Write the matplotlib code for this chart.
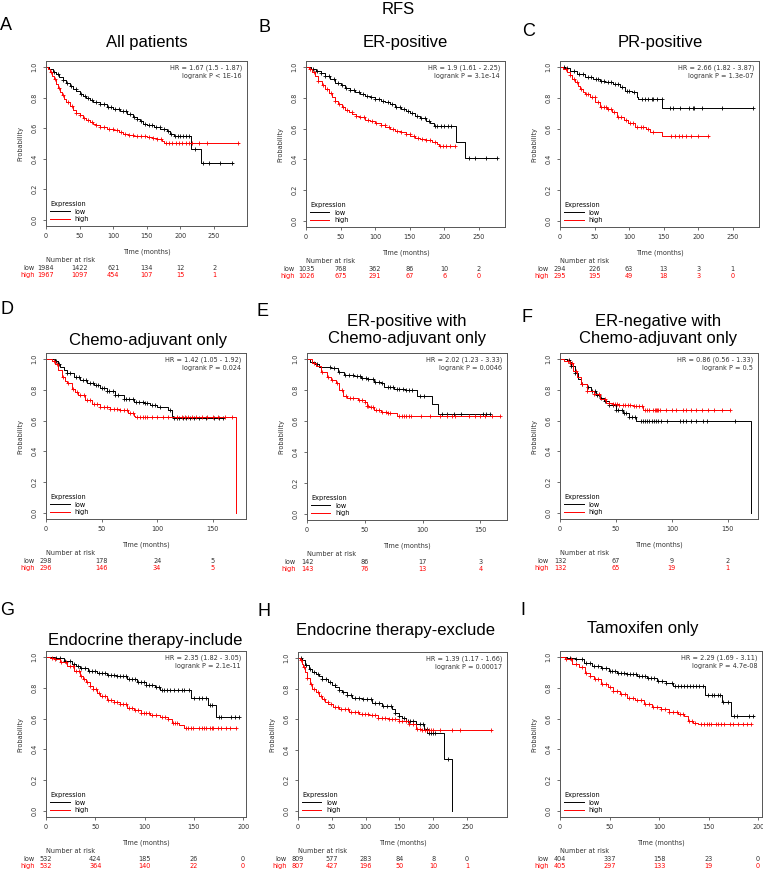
import numpy as np
import matplotlib
matplotlib.use('Agg')
import matplotlib.pyplot as plt
from matplotlib.lines import Line2D

# ---------------- data ----------------
# Kaplan-Meier curves as (months, survival) step points, censor times in months

A_LOW = [(0,1.0),(5,0.985),(10,0.97),(15,0.952),(20,0.935),(25,0.915),(30,0.895),(35,0.877),(40,0.86),
         (45,0.843),(50,0.826),(55,0.81),(60,0.795),(65,0.782),(70,0.772),(80,0.757),(90,0.742),(100,0.728),
         (110,0.71),(120,0.69),(130,0.672),(135,0.66),(140,0.645),(145,0.63),(150,0.62),(160,0.607),
         (170,0.598),(180,0.58),(185,0.565),(190,0.548),(216,0.465),(230,0.374),(278,0.374)]
A_LOW_CENS = [12,18,25,31,37,44,52,58,63,69,75,81,86,92,97,103,108,114,119,125,131,136,142,147,153,158,
              164,169,175,181,186,192,196,200,204,208,212,222,234,243,259,276]
A_HIGH = [(0,1.0),(3,0.985),(6,0.965),(9,0.945),(12,0.92),(15,0.89),(18,0.865),(21,0.84),(24,0.815),
          (27,0.793),(30,0.772),(35,0.745),(40,0.72),(45,0.70),(50,0.685),(55,0.67),(60,0.657),(65,0.643),
          (70,0.63),(75,0.62),(80,0.61),(90,0.598),(100,0.587),(108,0.575),(115,0.565),(122,0.558),
          (130,0.552),(140,0.547),(150,0.543),(158,0.537),(165,0.532),(172,0.518),(176,0.506),(287,0.506)]
A_HIGH_CENS = [8,14,20,26,32,38,45,51,57,63,69,75,81,87,93,99,105,111,117,123,129,135,141,147,153,159,
               165,171,178,183,188,193,198,203,208,213,217,228,239,286]

B_LOW = [(0,1.0),(7,0.99),(14,0.978),(21,0.962),(28,0.945),(35,0.922),(42,0.90),(50,0.882),(57,0.865),
         (64,0.85),(71,0.837),(78,0.826),(86,0.815),(93,0.804),(100,0.793),(108,0.782),(115,0.772),
         (122,0.758),(129,0.743),(137,0.73),(144,0.717),(151,0.70),(158,0.685),(165,0.668),(173,0.652),
         (180,0.635),(185,0.62),(217,0.513),(230,0.41),(277,0.41)]
B_LOW_CENS = [10,16,22,28,34,40,46,52,58,64,70,76,82,88,94,100,106,112,118,124,130,136,142,148,154,160,
              166,172,178,186,190,195,200,205,210,236,245,260,277]
B_HIGH = [(0,1.0),(4,0.985),(9,0.967),(13,0.94),(18,0.913),(23,0.886),(28,0.859),(33,0.832),(38,0.804),
          (42,0.782),(47,0.761),(52,0.74),(57,0.722),(62,0.708),(67,0.696),(72,0.685),(76,0.674),(86,0.659),
          (93,0.647),(100,0.635),(108,0.624),(115,0.613),(122,0.60),(129,0.587),(137,0.576),(144,0.565),
          (151,0.552),(158,0.539),(165,0.532),(173,0.526),(182,0.512),(190,0.50),(192,0.485),(216,0.485)]
B_HIGH_CENS = [6,12,18,24,30,36,42,48,54,60,66,72,78,84,90,96,102,108,114,120,126,132,138,144,150,156,
               162,168,174,180,186,194,198,203,208,216]

C_LOW = [(0,1.0),(7,0.993),(14,0.978),(24,0.957),(36,0.935),(48,0.924),(58,0.913),(65,0.902),(77,0.891),
         (87,0.874),(94,0.848),(104,0.837),(111,0.804),(113,0.793),(148,0.737),(279,0.737)]
C_LOW_CENS = [6,10,20,28,33,40,45,52,55,60,63,70,74,80,84,90,97,100,107,118,123,128,133,135,140,147,159,
              164,174,186,193,194,205,234,279]
C_HIGH = [(0,1.0),(5,0.99),(10,0.967),(14,0.946),(18,0.924),(22,0.902),(26,0.88),(29,0.859),(33,0.84),
          (36,0.826),(43,0.804),(51,0.772),(58,0.743),(68,0.728),(75,0.707),(82,0.674),(92,0.657),(99,0.635),
          (109,0.613),(125,0.598),(130,0.58),(147,0.554),(215,0.554)]
C_HIGH_CENS = [8,15,20,25,30,38,41,46,50,55,60,63,67,70,74,78,84,88,96,102,106,112,117,120,127,135,160,
               166,172,177,183,190,200,214]

D_LOW = [(0,1.0),(8,0.989),(11,0.97),(13,0.952),(16,0.93),(19,0.908),(25,0.886),(31,0.864),(37,0.842),
         (43,0.831),(49,0.815),(55,0.793),(62,0.769),(70,0.743),(79,0.721),(88,0.714),(94,0.699),(100,0.688),
         (110,0.666),(113,0.633),(114,0.62),(159,0.62)]
D_LOW_CENS = [9,12,19,22,27,30,33,36,40,42,45,47,50,52,55,57,60,62,65,70,72,75,78,81,84,87,89,91,95,98,
              103,112,115,118,120,123,126,130,133,138,144,151,156,159]
D_HIGH = [(0,1.0),(5,0.985),(8,0.967),(11,0.93),(14,0.886),(17,0.86),(19,0.842),(23,0.809),(26,0.787),
          (29,0.765),(35,0.736),(41,0.71),(49,0.688),(58,0.677),(67,0.666),(74,0.651),(79,0.633),(80,0.625),
          (171,0.625),(171,0.0)]
D_HIGH_CENS = [7,10,15,20,24,28,31,34,37,40,43,46,49,52,55,58,61,64,67,70,73,76,78,82,85,87,89,91,95,
               100,105,110,118,122,125,128,131,135,140,145,150,155,161,167]

E_LOW = [(0,1.0),(3,0.985),(7,0.97),(10,0.948),(21,0.94),(27,0.92),(32,0.897),(41,0.89),(47,0.88),
         (53,0.87),(58,0.854),(64,0.843),(67,0.822),(75,0.807),(85,0.80),(95,0.76),(108,0.707),(113,0.648),
         (158,0.648)]
E_LOW_CENS = [9,20,23,28,33,36,40,43,46,48,51,53,57,59,62,65,70,72,74,78,80,83,86,88,91,98,101,117,121,
              127,133,152,155,158]
E_HIGH = [(0,1.0),(4,0.978),(8,0.957),(12,0.92),(17,0.883),(21,0.865),(25,0.843),(28,0.80),(31,0.76),
          (35,0.746),(44,0.735),(50,0.724),(52,0.70),(54,0.69),(58,0.67),(64,0.659),(70,0.652),(78,0.63),
          (167,0.63)]
E_HIGH_CENS = [6,13,18,22,26,30,34,37,40,45,48,50,52,53,55,57,60,62,65,68,70,72,80,82,84,86,88,90,99,
               106,115,121,125,128,140,145,150,154,160,167]

F_LOW = [(0,1.0),(6,0.993),(9,0.983),(10,0.956),(13,0.913),(16,0.873),(19,0.836),(24,0.82),(28,0.79),
         (32,0.764),(36,0.745),(39,0.727),(44,0.699),(50,0.672),(56,0.65),(62,0.624),(68,0.596),
         (171,0.596),(171,0.0)]
F_LOW_CENS = [8,10,13,20,25,29,31,33,35,37,40,44,47,50,52,55,57,59,62,64,67,72,74,76,78,80,82,84,86,88,
              90,96,107,110,113,117,122,128,131,156]
F_HIGH = [(0,1.0),(4,0.989),(9,0.974),(12,0.924),(15,0.886),(19,0.836),(24,0.793),(30,0.771),(36,0.742),
          (41,0.716),(47,0.705),(53,0.699),(65,0.694),(74,0.672),(152,0.672)]
F_HIGH_CENS = [7,9,11,14,20,24,30,35,40,44,47,49,51,53,56,58,61,63,66,68,71,73,76,78,80,83,85,86,87,88,
               89,95,100,104,110,113,117,122,127,132,138,145,152]

G_LOW = [(0,1.0),(9,0.996),(18,0.978),(26,0.956),(30,0.94),(35,0.928),(43,0.912),(52,0.897),(62,0.884),
         (72,0.875),(82,0.858),(92,0.84),(102,0.818),(111,0.803),(116,0.788),(147,0.733),(164,0.687),
         (173,0.611),(196,0.611)]
G_LOW_CENS = [10,14,19,24,28,32,36,40,44,47,50,54,57,60,63,66,69,72,75,78,81,84,87,90,93,96,99,102,105,
              108,112,115,118,120,123,126,130,134,138,140,145,150,155,158,162,166,168,176,178,188,192,196]
G_HIGH = [(0,1.0),(4,0.995),(8,0.989),(14,0.967),(21,0.945),(28,0.912),(35,0.88),(38,0.858),(41,0.836),
          (45,0.814),(48,0.792),(52,0.77),(55,0.748),(62,0.722),(69,0.705),(75,0.694),(82,0.672),(89,0.654),
          (96,0.639),(106,0.624),(116,0.611),(124,0.60),(128,0.569),(135,0.556),(140,0.54),(193,0.54)]
G_HIGH_CENS = [6,9,15,20,24,27,30,33,36,39,42,45,48,51,54,57,60,63,66,69,72,75,78,81,84,87,90,93,96,99,
               102,105,108,112,118,121,124,129,131,133,142,144,147,149,155,158,160,162,166,168,170,175,
               178,183,187,193]

H_LOW = [(0,1.0),(6,0.985),(11,0.958),(16,0.93),(21,0.912),(26,0.896),(31,0.88),(36,0.863),(45,0.841),
         (50,0.825),(55,0.808),(60,0.792),(65,0.775),(72,0.758),(80,0.742),(95,0.731),(110,0.709),
         (124,0.687),(139,0.665),(144,0.643),(149,0.621),(154,0.605),(159,0.588),(174,0.566),(186,0.533),
         (191,0.511),(216,0.339),(228,0.339),(228,0.0)]
H_LOW_CENS = [5,12,18,24,30,36,42,48,54,60,66,72,78,84,90,96,102,108,114,120,126,132,138,144,150,156,
              162,165,170,175,180,185,190,193,196,199,203,222]
H_HIGH = [(0,1.0),(3,0.985),(6,0.963),(8,0.94),(11,0.907),(14,0.87),(18,0.83),(21,0.80),(26,0.775),
          (31,0.75),(36,0.731),(40,0.715),(45,0.698),(52,0.68),(60,0.665),(75,0.648),(90,0.632),(105,0.626),
          (119,0.61),(134,0.599),(149,0.588),(164,0.566),(174,0.537),(183,0.528),(287,0.528)]
H_HIGH_CENS = [4,9,14,19,24,29,34,39,44,49,54,59,64,69,74,79,84,89,94,99,104,109,114,119,124,129,134,
               139,144,149,154,159,164,170,176,180,184,188,190,193,196,200,210,228,240,286]

I_LOW = [(0,1.0),(7,0.996),(15,0.985),(24,0.963),(32,0.945),(41,0.928),(49,0.912),(58,0.90),(68,0.89),
         (78,0.875),(88,0.862),(98,0.847),(107,0.832),(114,0.814),(146,0.753),(164,0.705),(173,0.615),
         (196,0.615)]
I_LOW_CENS = [10,16,22,26,30,34,38,42,46,50,53,56,59,62,65,68,71,74,77,80,83,86,89,92,95,99,103,107,
              113,116,119,122,125,128,131,134,137,140,144,149,153,156,160,162,165,170,176,179,191,195]
I_HIGH = [(0,1.0),(5,0.985),(12,0.956),(19,0.934),(25,0.90),(30,0.878),(34,0.858),(41,0.825),(48,0.803),
          (54,0.781),(61,0.759),(68,0.737),(76,0.722),(85,0.698),(93,0.676),(102,0.661),(110,0.645),
          (119,0.632),(125,0.617),(129,0.584),(134,0.573),(139,0.562),(193,0.562)]
I_HIGH_CENS = [6,11,16,22,26,30,35,38,42,46,50,54,58,62,66,70,74,78,82,86,90,94,98,102,106,110,114,118,
               121,124,130,133,136,142,145,148,150,152,158,160,163,166,172,175,180,185,189,193]

letters = ['A', 'B', 'C', 'D', 'E', 'F', 'G', 'H', 'I']
titles = ['All patients', 'ER-positive', 'PR-positive', 'Chemo-adjuvant only',
          'ER-positive with\nChemo-adjuvant only', 'ER-negative with\nChemo-adjuvant only',
          'Endocrine therapy-include', 'Endocrine therapy-exclude', 'Tamoxifen only']
hr_text = ['HR = 1.67 (1.5 - 1.87)', 'HR = 1.9 (1.61 - 2.25)', 'HR = 2.66 (1.82 - 3.87)',
           'HR = 1.42 (1.05 - 1.92)', 'HR = 2.02 (1.23 - 3.33)', 'HR = 0.86 (0.56 - 1.33)',
           'HR = 2.35 (1.82 - 3.05)', 'HR = 1.39 (1.17 - 1.66)', 'HR = 2.29 (1.69 - 3.11)']
p_text = ['logrank P < 1E-16', 'logrank P = 3.1e-14', 'logrank P = 1.3e-07',
          'logrank P = 0.024', 'logrank P = 0.0046', 'logrank P = 0.5',
          'logrank P = 2.1e-11', 'logrank P = 0.00017', 'logrank P = 4.7e-08']
risk_times = [[0, 50, 100, 150, 200, 250]] * 3 + [[0, 50, 100, 150]] * 3 + \
             [[0, 50, 100, 150, 200], [0, 50, 100, 150, 200, 250], [0, 50, 100, 150, 200]]
risk_low = [[1984, 1422, 621, 134, 12, 2], [1035, 768, 362, 86, 10, 2], [294, 226, 63, 13, 3, 1],
            [298, 178, 24, 5], [142, 86, 17, 3], [132, 67, 9, 2],
            [532, 424, 185, 26, 0], [809, 577, 283, 84, 8, 0], [404, 337, 158, 23, 0]]
risk_high = [[1967, 1097, 454, 107, 15, 1], [1026, 675, 291, 67, 6, 0], [295, 195, 49, 18, 3, 0],
             [296, 146, 34, 5], [143, 76, 13, 4], [132, 65, 19, 1],
             [532, 364, 140, 22, 0], [807, 427, 196, 50, 10, 1], [405, 297, 133, 19, 0]]
low_curves = [A_LOW, B_LOW, C_LOW, D_LOW, E_LOW, F_LOW, G_LOW, H_LOW, I_LOW]
low_cens = [A_LOW_CENS, B_LOW_CENS, C_LOW_CENS, D_LOW_CENS, E_LOW_CENS, F_LOW_CENS,
            G_LOW_CENS, H_LOW_CENS, I_LOW_CENS]
high_curves = [A_HIGH, B_HIGH, C_HIGH, D_HIGH, E_HIGH, F_HIGH, G_HIGH, H_HIGH, I_HIGH]
high_cens = [A_HIGH_CENS, B_HIGH_CENS, C_HIGH_CENS, D_HIGH_CENS, E_HIGH_CENS, F_HIGH_CENS,
             G_HIGH_CENS, H_HIGH_CENS, I_HIGH_CENS]

# ---------------- layout (pixels) ----------------
W, H = 763, 871
boxes = [(46, 61, 247, 226), (306, 61, 505, 227), (560, 61, 759, 227),
         (46, 353, 246, 519), (307, 353, 507, 520), (560, 353, 758, 519),
         (46, 651, 246, 817), (298, 652, 507, 817), (560, 651, 762, 817)]
xmax = [299, 288, 288, 180, 173, 177, 203, 309, 204]
letter_pos = [(6, 26), (264, 27), (529, 31), (7, 310), (262, 311), (527, 317),
              (7, 610), (264, 612), (523, 610)]
title_pos = [(147, 42), (405, 42), (660, 43), (148, 340), (407, 330), (658, 330),
             (145, 640), (395, 630), (643, 629)]

RED = '#ff0000'
GRAY = '#555555'
TXT = '#333333'
small = 4.7
PX = 0.72  # points per pixel at 100 dpi

fig = plt.figure(figsize=(W / 100, H / 100), dpi=100)
fig.text(398 / W, 1 - 9 / H, 'RFS', ha='center', va='center', fontsize=12, family='Liberation Sans')


def km(ax, pts, cens, color):
    pts = np.array(pts)
    ax.plot(pts[:, 0], pts[:, 1], drawstyle='steps-post', color=color, lw=0.7)
    idx = np.searchsorted(pts[:, 0], cens, side='right') - 1
    ax.plot(cens, pts[idx, 1], '+', color=color, ms=3.5, mew=0.6, ls='none')


for i in range(9):
    l, t, r, b = boxes[i]
    ax = fig.add_axes([l / W, 1 - b / H, (r - l) / W, (b - t) / H])
    km(ax, low_curves[i], low_cens[i], 'black')
    km(ax, high_curves[i], high_cens[i], RED)
    ax.set_xlim(0, xmax[i])
    ax.set_ylim(-0.04, 1.04)
    ax.set_xticks(risk_times[i])
    ax.set_yticks([0, 0.2, 0.4, 0.6, 0.8, 1.0])
    ax.set_yticklabels(['0.0', '0.2', '0.4', '0.6', '0.8', '1.0'], rotation=90, va='center')
    ax.tick_params(length=2.5, width=0.6, color=GRAY, labelsize=small, labelcolor=TXT, pad=2.5)
    ax.tick_params(axis='y', pad=3.5)
    for s in ax.spines.values():
        s.set_color(GRAY)
        s.set_linewidth(0.7)

    # stats in top right corner
    ax.annotate(hr_text[i], xy=(1, 1), xycoords='axes fraction', xytext=(-5 * PX, -7 * PX),
                textcoords='offset points', ha='right', va='center', fontsize=small, color=TXT)
    ax.annotate(p_text[i], xy=(1, 1), xycoords='axes fraction', xytext=(-5 * PX, -15 * PX),
                textcoords='offset points', ha='right', va='center', fontsize=small, color=TXT)

    handles = [Line2D([], [], color='black', lw=0.7), Line2D([], [], color=RED, lw=0.7)]
    ax.legend(handles, ['low', 'high'], title='Expression', loc='lower left', frameon=False,
              fontsize=small, title_fontsize=small, handlelength=3.0, handletextpad=0.8,
              labelspacing=0.2, borderpad=0.3, borderaxespad=0.3, alignment='left')

    # axis labels
    ax.annotate('Time (months)', xy=(0.5, 0), xycoords='axes fraction', xytext=(0, -26 * PX),
                textcoords='offset points', ha='center', va='center', fontsize=small, color=TXT)
    ax.annotate('Probability', xy=(0, 0.5), xycoords='axes fraction', xytext=(-26 * PX, 0),
                textcoords='offset points', ha='center', va='center', fontsize=small, color=TXT,
                rotation=90)

    # number at risk table
    ax.annotate('Number at risk', xy=(0, 0), xycoords='axes fraction', xytext=(0, -34 * PX),
                textcoords='offset points', ha='left', va='center', fontsize=small, color=TXT)
    ax.annotate('low', xy=(0, 0), xycoords='axes fraction', xytext=(-11 * PX, -42 * PX),
                textcoords='offset points', ha='right', va='center', fontsize=small, color=TXT)
    ax.annotate('high', xy=(0, 0), xycoords='axes fraction', xytext=(-11 * PX, -49 * PX),
                textcoords='offset points', ha='right', va='center', fontsize=small, color=RED)
    for tt, nl, nh in zip(risk_times[i], risk_low[i], risk_high[i]):
        ax.annotate(str(nl), xy=(tt, 0), xycoords=('data', 'axes fraction'), xytext=(0, -42 * PX),
                    textcoords='offset points', ha='center', va='center', fontsize=small, color=TXT)
        ax.annotate(str(nh), xy=(tt, 0), xycoords=('data', 'axes fraction'), xytext=(0, -49 * PX),
                    textcoords='offset points', ha='center', va='center', fontsize=small, color=RED)

    lx, ly = letter_pos[i]
    fig.text(lx / W, 1 - ly / H, letters[i], ha='center', va='center', fontsize=13,
             family='Liberation Sans')
    tx, ty = title_pos[i]
    fig.text(tx / W, 1 - ty / H, titles[i], ha='center', va='center', fontsize=12,
             family='Liberation Sans', linespacing=1.15)

fig.savefig('out.png', dpi=100)
